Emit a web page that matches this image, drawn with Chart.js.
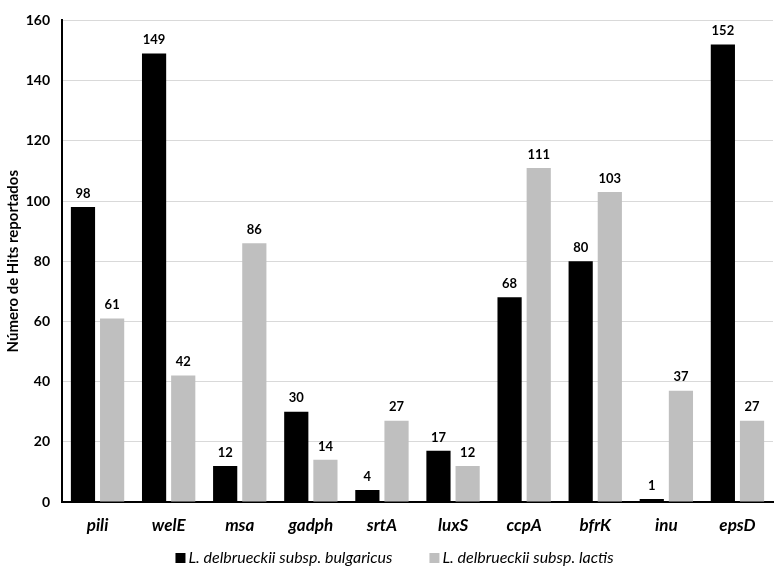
<!DOCTYPE html>
<html><head><meta charset="utf-8">
<script src="https://cdn.jsdelivr.net/npm/chart.js@4"></script>
<style>html,body{margin:0;padding:0;background:#fff;}#wrap{width:783px;height:567px;}</style>
</head><body><div id="wrap"><canvas id="c" width="783" height="567"></canvas></div>
<script>
const categories = ["pili","welE","msa","gadph","srtA","luxS","ccpA","bfrK","inu","epsD"];
const bulgaricus = [98,149,12,30,4,17,68,80,1,152];
const lactis = [61,42,86,14,27,12,111,103,37,27];
const seriesNames = ["L. delbrueckii subsp. bulgaricus","L. delbrueckii subsp. lactis"];
const yTicks = [0,20,40,60,80,100,120,140,160];
const FONT = "Lato, 'Open Sans', sans-serif";

const labelPlugin = {
  id: 'vals',
  afterDatasetsDraw(chart) {
    const ctx = chart.ctx;
    ctx.save();
    ctx.font = "bold 13px " + FONT;
    ctx.fillStyle = "#000";
    ctx.textAlign = "center";
    ctx.textBaseline = "bottom";
    chart.data.datasets.forEach((ds, i) => {
      chart.getDatasetMeta(i).data.forEach((el, j) => {
        ctx.fillText(String(ds.data[j]), el.x, el.y - 7);
      });
    });
    ctx.restore();
  }
};

const legendPlugin = {
  id: 'customLegend',
  afterDraw(chart) {
    const ctx = chart.ctx;
    ctx.save();
    ctx.font = "italic 16px " + FONT;
    ctx.textBaseline = "middle";
    ctx.textAlign = "left";
    const box = 10, gap = 3, spacing = 37, yc = 558;
    const items = chart.data.datasets.map(ds => ({text: ds.label, color: ds.backgroundColor, w: ctx.measureText(ds.label).width}));
    let total = items.reduce((s, it) => s + box + gap + it.w, 0) + spacing * (items.length - 1);
    let x = chart.width / 2 + 3 - total / 2;
    items.forEach(it => {
      ctx.fillStyle = it.color;
      ctx.fillRect(x, yc - box / 2, box, box);
      ctx.fillStyle = '#000';
      ctx.fillText(it.text, x + box + gap, yc);
      x += box + gap + it.w + spacing;
    });
    ctx.restore();
  }
};

new Chart(document.getElementById('c'), {
  type: 'bar',
  data: {
    labels: categories,
    datasets: [
      {label: seriesNames[0], data: bulgaricus, backgroundColor: '#000000', categoryPercentage: 0.82, barPercentage: 0.83},
      {label: seriesNames[1], data: lactis, backgroundColor: '#bfbfbf', categoryPercentage: 0.82, barPercentage: 0.83}
    ]
  },
  options: {
    responsive: false,
    animation: false,
    layout: {padding: {left: 4, right: 10, top: 3, bottom: 29}},
    plugins: {
      legend: {display: false},
      tooltip: {enabled: false}
    },
    scales: {
      x: {
        grid: {display: false, drawTicks: false},
        border: {color: '#000', width: 2},
        ticks: {color: '#000', font: {family: FONT, size: 17, weight: 'bold', style: 'italic'}, padding: 13},
        afterFit(scale) { scale.height = 36; }
      },
      y: {
        min: 0, max: 160,
        afterBuildTicks(axis) { axis.ticks = yTicks.map(v => ({value: v})); },
        grid: {color: '#d9d9d9', drawTicks: false},
        border: {color: '#000', width: 2},
        ticks: {color: '#000', font: {family: FONT, size: 14, weight: 'bold'}, padding: 12},
        title: {display: true, text: 'Número de Hits reportados', color: '#000', font: {family: FONT, size: 15, weight: 'bold'}, padding: {top: 0, bottom: 0}},
        afterFit(scale) { scale.width = 58; }
      }
    }
  },
  plugins: [labelPlugin, legendPlugin]
});
</script></body></html>
